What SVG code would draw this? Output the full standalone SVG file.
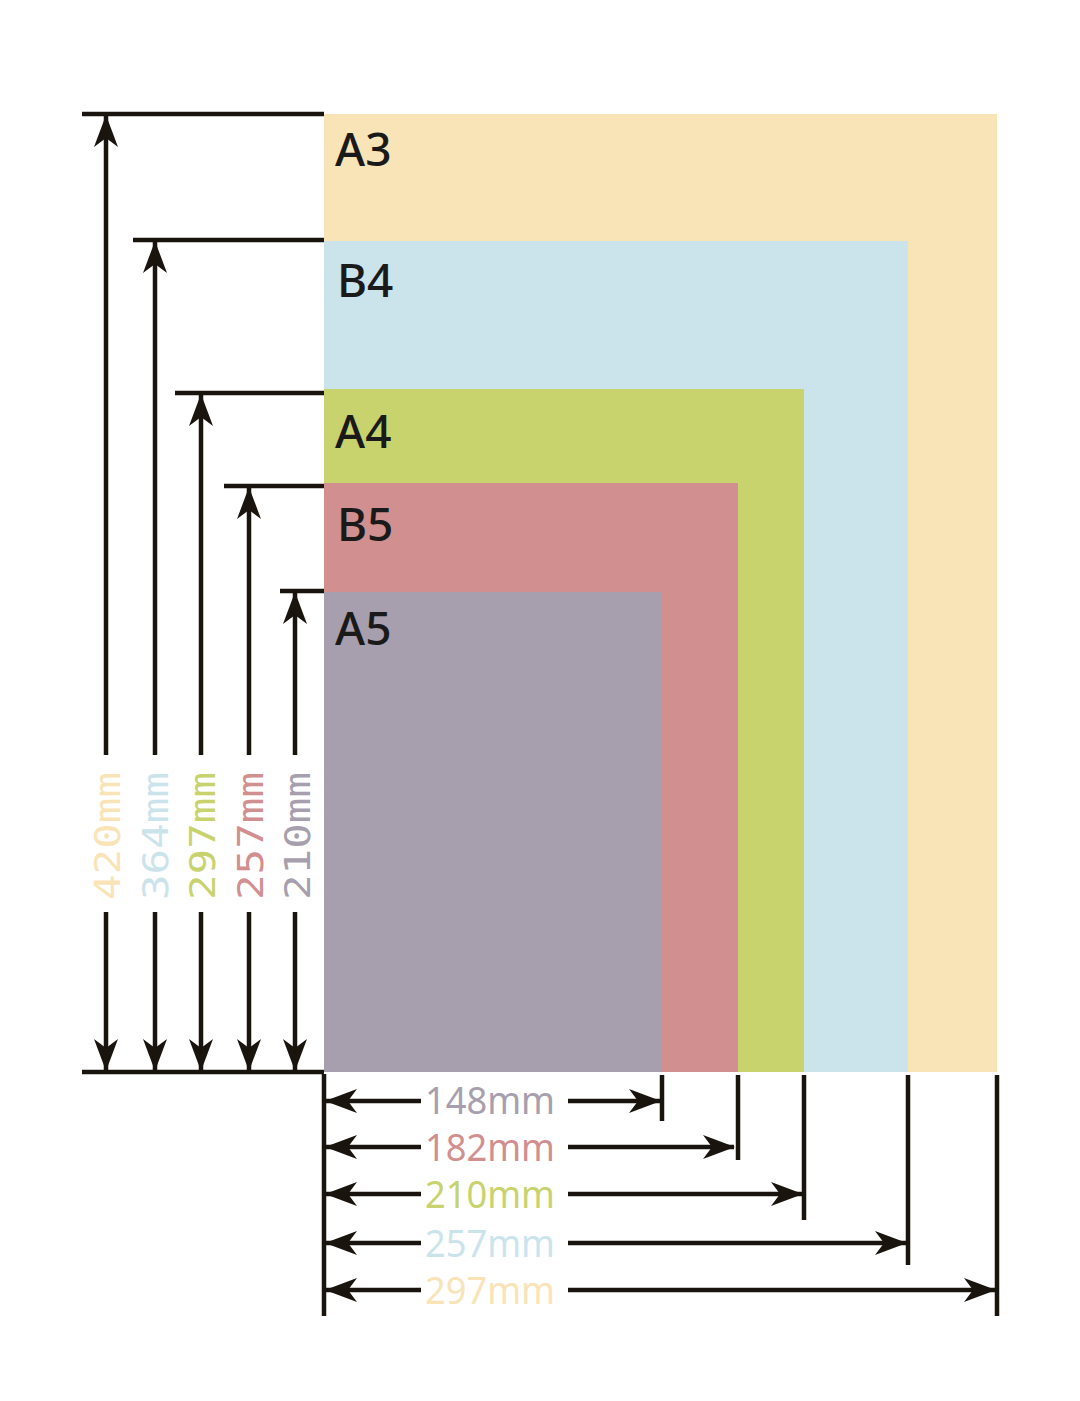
<svg xmlns="http://www.w3.org/2000/svg" width="1080" height="1401" viewBox="0 0 1080 1401">
<defs>
<marker id="ah" markerUnits="userSpaceOnUse" markerWidth="32" markerHeight="24" viewBox="0 0 32 24" refX="31" refY="12" orient="auto-start-reverse">
<path d="M0,0 L32,12 L0,24 L9,12 Z" fill="#1a140e"/>
</marker>
</defs>
<style>
.ln{stroke:#1a140e;stroke-width:4.5;fill:none}
.ar{stroke:#1a140e;stroke-width:4.5;fill:none;marker-end:url(#ah)}
.nm{font-family:"Noto Sans","DejaVu Sans",sans-serif;font-size:46px;font-weight:500;fill:#1a1a1a}
.vl{font-family:"DejaVu Sans Mono",monospace;font-size:36px;text-anchor:middle}
.hl{font-family:"Noto Sans","DejaVu Sans",sans-serif;font-size:38px}
</style>
<rect width="1080" height="1401" fill="#ffffff"/>
<g id="A3"><rect x="324" y="114" width="673" height="958" fill="#F9E4B7"/><text class="nm" x="335" y="166">A3</text></g>
<g id="B4"><rect x="324" y="241" width="584" height="831" fill="#CBE4EC"/><text class="nm" x="337" y="297">B4</text></g>
<g id="A4"><rect x="324" y="389" width="480" height="683" fill="#C8D36E"/><text class="nm" x="335" y="448">A4</text></g>
<g id="B5"><rect x="324" y="483" width="414" height="589" fill="#D18F90"/><text class="nm" x="337" y="541">B5</text></g>
<g id="A5"><rect x="324" y="592" width="338" height="480" fill="#A79FAD"/><text class="nm" x="335" y="645">A5</text></g>
<g id="connectors">
<line class="ln" x1="82" y1="114" x2="324" y2="114"/>
<line class="ln" x1="133" y1="240" x2="324" y2="240"/>
<line class="ln" x1="175" y1="393" x2="324" y2="393"/>
<line class="ln" x1="224" y1="486" x2="324" y2="486"/>
<line class="ln" x1="280" y1="591" x2="324" y2="591"/>
<line class="ln" x1="82" y1="1072" x2="324" y2="1072"/>
<line class="ar" x1="106" y1="755" x2="106" y2="116"/>
<line class="ar" x1="106" y1="912" x2="106" y2="1070"/>
<line class="ar" x1="155" y1="755" x2="155" y2="242"/>
<line class="ar" x1="155" y1="912" x2="155" y2="1070"/>
<line class="ar" x1="201" y1="755" x2="201" y2="395"/>
<line class="ar" x1="201" y1="912" x2="201" y2="1070"/>
<line class="ar" x1="249" y1="755" x2="249" y2="488"/>
<line class="ar" x1="249" y1="912" x2="249" y2="1070"/>
<line class="ar" x1="295" y1="755" x2="295" y2="593"/>
<line class="ar" x1="295" y1="912" x2="295" y2="1070"/>
<line class="ln" x1="324" y1="1074" x2="324" y2="1316"/>
<line class="ln" x1="662" y1="1075" x2="662" y2="1121"/>
<line class="ln" x1="738" y1="1075" x2="738" y2="1160"/>
<line class="ln" x1="804" y1="1075" x2="804" y2="1220"/>
<line class="ln" x1="908" y1="1075" x2="908" y2="1265"/>
<line class="ln" x1="997" y1="1075" x2="997" y2="1316"/>
<line class="ar" x1="421" y1="1101" x2="326" y2="1101"/>
<line class="ar" x1="568" y1="1101" x2="660" y2="1101"/>
<line class="ar" x1="421" y1="1147" x2="326" y2="1147"/>
<line class="ar" x1="568" y1="1147" x2="734" y2="1147"/>
<line class="ar" x1="421" y1="1194" x2="326" y2="1194"/>
<line class="ar" x1="568" y1="1194" x2="802" y2="1194"/>
<line class="ar" x1="421" y1="1243" x2="326" y2="1243"/>
<line class="ar" x1="568" y1="1243" x2="906" y2="1243"/>
<line class="ar" x1="421" y1="1290" x2="326" y2="1290"/>
<line class="ar" x1="568" y1="1290" x2="995" y2="1290"/>
</g>
<g id="labels">
<text class="vl" transform="translate(120,836) rotate(-90)" fill="#F9E4B7" textLength="128" lengthAdjust="spacingAndGlyphs">420mm</text>
<text class="vl" transform="translate(168,836) rotate(-90)" fill="#CBE4EC" textLength="128" lengthAdjust="spacingAndGlyphs">364mm</text>
<text class="vl" transform="translate(215,836) rotate(-90)" fill="#C8D36E" textLength="128" lengthAdjust="spacingAndGlyphs">297mm</text>
<text class="vl" transform="translate(263,836) rotate(-90)" fill="#D18F90" textLength="128" lengthAdjust="spacingAndGlyphs">257mm</text>
<text class="vl" transform="translate(310,836) rotate(-90)" fill="#A79FAD" textLength="128" lengthAdjust="spacingAndGlyphs">210mm</text>
<text class="hl" x="425" y="1114" fill="#A79FAD" textLength="130" lengthAdjust="spacingAndGlyphs">148mm</text>
<text class="hl" x="425" y="1161" fill="#D18F90" textLength="130" lengthAdjust="spacingAndGlyphs">182mm</text>
<text class="hl" x="425" y="1208" fill="#C8D36E" textLength="130" lengthAdjust="spacingAndGlyphs">210mm</text>
<text class="hl" x="425" y="1257" fill="#CBE4EC" textLength="130" lengthAdjust="spacingAndGlyphs">257mm</text>
<text class="hl" x="425" y="1304" fill="#F9E4B7" textLength="130" lengthAdjust="spacingAndGlyphs">297mm</text>
</g>
</svg>
